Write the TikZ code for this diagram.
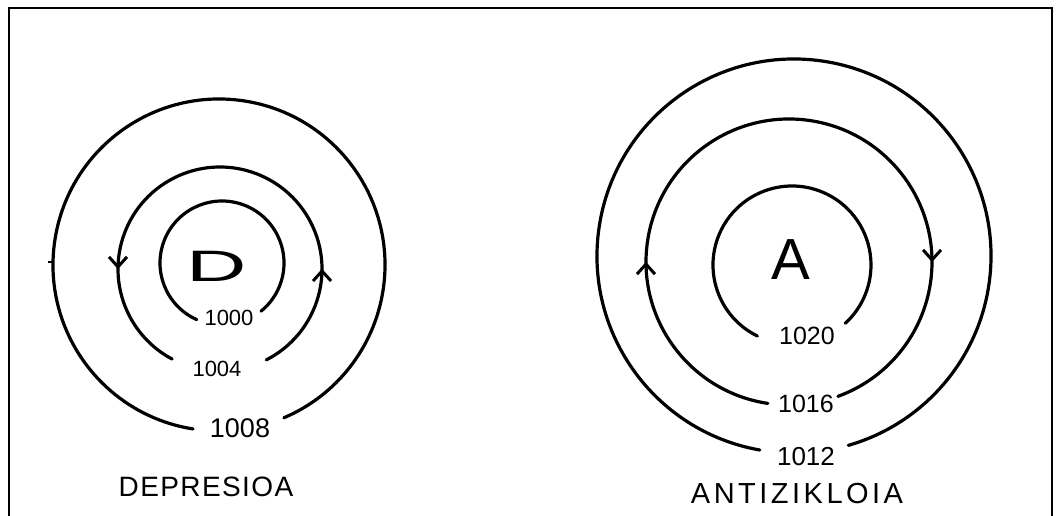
\documentclass[tikz,border=0pt]{standalone}
\usepackage{fontspec}
\setmainfont{Liberation Sans}
\usetikzlibrary{arrows.meta,decorations.markings}
\tikzset{
  iso/.style={line width=3.2pt, line cap=round},
  lbl/.style={font=\fontsize{#1pt}{#1pt}\selectfont, inner sep=1pt},
  vbarb/.tip={Straight Barb[length=10pt,width=18pt,line width=3pt]},
  arrs/.style 2 args={postaction={decorate}, decoration={markings,
      mark=at position #1 with {\arrow{vbarb}},
      mark=at position #2 with {\arrow{vbarb}}}},
  frame/.style={line width=2.4pt}
}
\begin{document}
\begin{tikzpicture}[x=1pt,y=-1pt]
\useasboundingbox (0,0) rectangle (1061,516);
\draw[frame] (9,516) -- (9,8) -- (1052,8) -- (1052,516);

% Depresioa
\draw[iso] (219,265) ++(99:166) arc[start angle=99,end angle=427,radius=166];
\draw[iso,arrs={0.207}{0.797}] (220,269) ++(423:102) arc[start angle=423,end angle=118,radius=102];
\draw[iso] (222,263) ++(114:62) arc[start angle=114,end angle=411,radius=62];
\draw[line width=2.4pt] (48,262) -- (54,262);
\node[lbl=44, xscale=1.9] (D) at (217,266) {D};
\node[lbl=22] (p1000) at (229,318) {1000};
\node[lbl=22] (p1004) at (217,369) {1004};
\node[lbl=27] (p1008) at (240,428) {1008};
\node[font=\fontsize{28pt}{28pt}\selectfont\addfontfeatures{LetterSpace=5}] (dep) at (206,487) {DEPRESIOA};

% Antizikloia
\draw[iso] (794,256) ++(100:197) arc[start angle=100,end angle=434,radius=197];
\draw[iso,arrs={0.246}{0.789}] (789,262) ++(98.5:143) arc[start angle=98.5,end angle=430,radius=143];
\draw[iso] (792,265) ++(116:79) arc[start angle=116,end angle=407.6,radius=79];
\node[lbl=58] (A) at (791,260) {A};
\node[lbl=25] (p1020) at (807,336) {1020};
\node[lbl=25] (p1016) at (806,404) {1016};
\node[lbl=26] (p1012) at (806,457) {1012};
\node[font=\fontsize{29pt}{29pt}\selectfont\addfontfeatures{LetterSpace=12}] (anti) at (797,494) {ANTIZIKLOIA};
\end{tikzpicture}
\end{document}
